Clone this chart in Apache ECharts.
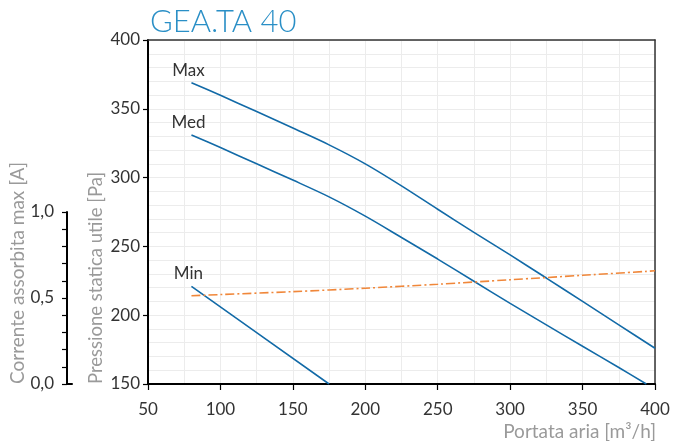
<!DOCTYPE html>
<html>
<head>
<meta charset="utf-8">
<script src="https://cdn.jsdelivr.net/npm/echarts@6/dist/echarts.min.js"></script>
<style>
  html, body { margin: 0; padding: 0; background: #fff; }
  #chart { width: 674px; height: 441px; }
</style>
</head>
<body>
<div id="chart"></div>
<script>
// Fan curves: airflow [m³/h] vs available static pressure [Pa]
const titleText = 'GEA.TA 40';
const curveMax = [[80, 369], [100, 359.8], [125, 348], [150, 336], [175, 323.8], [200, 310], [225, 294], [250, 277], [275, 260.2], [300, 243.8], [325, 227], [350, 210], [375, 193], [400, 176]];
const curveMed = [[80, 331], [100, 321.8], [125, 310], [150, 298.2], [175, 286], [200, 272], [225, 256.5], [250, 240.8], [275, 224.7], [300, 208.6], [325, 193], [350, 177.4], [375, 162], [394, 150]];
const curveMin = [[80, 221], [125, 187.4], [175, 150]];
// Max absorbed current [A]
const currentMax = [[80, 0.513], [100, 0.52], [150, 0.537], [200, 0.557], [250, 0.58], [300, 0.606], [350, 0.632], [400, 0.658]];
const curveNames = ['Max', 'Med', 'Min'];

const FONT = 'Lato';
const BLUE = '#126aa7';
const ORANGE = '#f0873a';
const GRID = '#ececec';

// the first point of each curve carries the curve's name above it
function withStartLabel(data, text) {
  return data.map((p, i) => i === 0
    ? { value: p, label: { show: true, position: 'top', distance: 4, offset: [-3, 0], formatter: text, color: '#333', fontSize: 17, fontFamily: FONT } }
    : p);
}

const chart = echarts.init(document.getElementById('chart'));
chart.setOption({
  animation: false,
  backgroundColor: '#fff',
  textStyle: { fontFamily: FONT },
  title: {
    text: titleText, left: 145, top: 1,
    textStyle: { color: '#2a8fc6', fontSize: 31, fontWeight: 300, fontFamily: FONT }
  },
  grid: [
    { left: 148, top: 40, width: 507, height: 344 },
    { left: 67, top: 212, width: 5, height: 172 }
  ],
  xAxis: [
    {
      gridIndex: 0, type: 'value', min: 50, max: 400, interval: 50,
      axisLine: { show: true, onZero: false, lineStyle: { color: '#000', width: 2 } },
      axisTick: { show: true, length: 6, lineStyle: { color: '#000', width: 1.2 } },
      axisLabel: { color: '#333', fontSize: 17, margin: 17, fontFamily: FONT },
      splitLine: { show: true, lineStyle: { color: GRID, width: 1 } },
      minorTick: { show: false, splitNumber: 2 },
      minorSplitLine: { show: true, lineStyle: { color: GRID, width: 1 } }
    },
    {
      gridIndex: 0, type: 'value', position: 'top', min: 50, max: 400,
      axisLine: { show: true, onZero: false, lineStyle: { color: '#333', width: 1.5 } },
      axisTick: { show: false }, axisLabel: { show: false }, splitLine: { show: false }
    },
    {
      gridIndex: 1, type: 'value', min: 0, max: 1,
      axisLine: { show: true, onZero: false, lineStyle: { color: '#000', width: 2 } },
      axisTick: { show: false }, axisLabel: { show: false }, splitLine: { show: false }
    }
  ],
  yAxis: [
    {
      gridIndex: 0, type: 'value', min: 150, max: 400, interval: 50,
      axisLine: { show: true, onZero: false, lineStyle: { color: '#000', width: 2 } },
      axisTick: { show: true, length: 5, lineStyle: { color: '#000', width: 1.2 } },
      axisLabel: { color: '#333', fontSize: 17, margin: 8, fontFamily: FONT },
      splitLine: { show: true, lineStyle: { color: GRID, width: 1 } },
      minorTick: { show: false, splitNumber: 5 },
      minorSplitLine: { show: true, lineStyle: { color: GRID, width: 1 } }
    },
    {
      gridIndex: 0, type: 'value', position: 'right', min: 150, max: 400,
      axisLine: { show: true, onZero: false, lineStyle: { color: '#333', width: 1.5 } },
      axisTick: { show: false }, axisLabel: { show: false }, splitLine: { show: false }
    },
    {
      gridIndex: 0, type: 'value', min: 0, max: 2, show: false
    },
    {
      gridIndex: 1, type: 'value', min: 0, max: 1, interval: 0.5,
      axisLine: { show: true, onZero: false, lineStyle: { color: '#000', width: 2 } },
      axisTick: { show: true, length: 5, lineStyle: { color: '#000', width: 1.2 } },
      minorTick: { show: true, splitNumber: 5, length: 5, lineStyle: { color: '#000', width: 1.2 } },
      axisLabel: {
        color: '#333', fontSize: 17, margin: 13, fontFamily: FONT,
        formatter: v => v.toFixed(1).replace('.', ',')
      },
      splitLine: { show: false }
    }
  ],
  graphic: [
    {
      type: 'text', x: 96, y: 384, rotation: Math.PI / 2,
      style: { text: 'Pressione statica utile [Pa]', fill: '#9a9a9a', font: '18.5px Lato', align: 'left', verticalAlign: 'middle' }
    },
    {
      type: 'text', x: 18, y: 384, rotation: Math.PI / 2,
      style: { text: 'Corrente assorbita max [A]', fill: '#9a9a9a', font: '19px Lato', align: 'left', verticalAlign: 'middle' }
    },
    {
      type: 'text', x: 656, y: 432,
      style: { text: 'Portata aria [m³/h]', fill: '#9a9a9a', font: '19px Lato', align: 'right', verticalAlign: 'middle' }
    }
  ],
  series: [
    {
      name: curveNames[0], type: 'line', xAxisIndex: 0, yAxisIndex: 0, smooth: 0.3,
      symbol: 'circle', symbolSize: 0, lineStyle: { color: BLUE, width: 1.6 },
      data: withStartLabel(curveMax, curveNames[0])
    },
    {
      name: curveNames[1], type: 'line', xAxisIndex: 0, yAxisIndex: 0, smooth: 0.3,
      symbol: 'circle', symbolSize: 0, lineStyle: { color: BLUE, width: 1.6 },
      data: withStartLabel(curveMed, curveNames[1])
    },
    {
      name: curveNames[2], type: 'line', xAxisIndex: 0, yAxisIndex: 0,
      symbol: 'circle', symbolSize: 0, lineStyle: { color: BLUE, width: 1.6 },
      data: withStartLabel(curveMin, curveNames[2])
    },
    {
      name: 'Corrente', type: 'line', xAxisIndex: 0, yAxisIndex: 2, smooth: 0.3,
      symbol: 'none', lineStyle: { color: ORANGE, width: 1.6, type: [9, 3, 2, 3] },
      data: currentMax
    }
  ]
});
</script>
</body>
</html>
